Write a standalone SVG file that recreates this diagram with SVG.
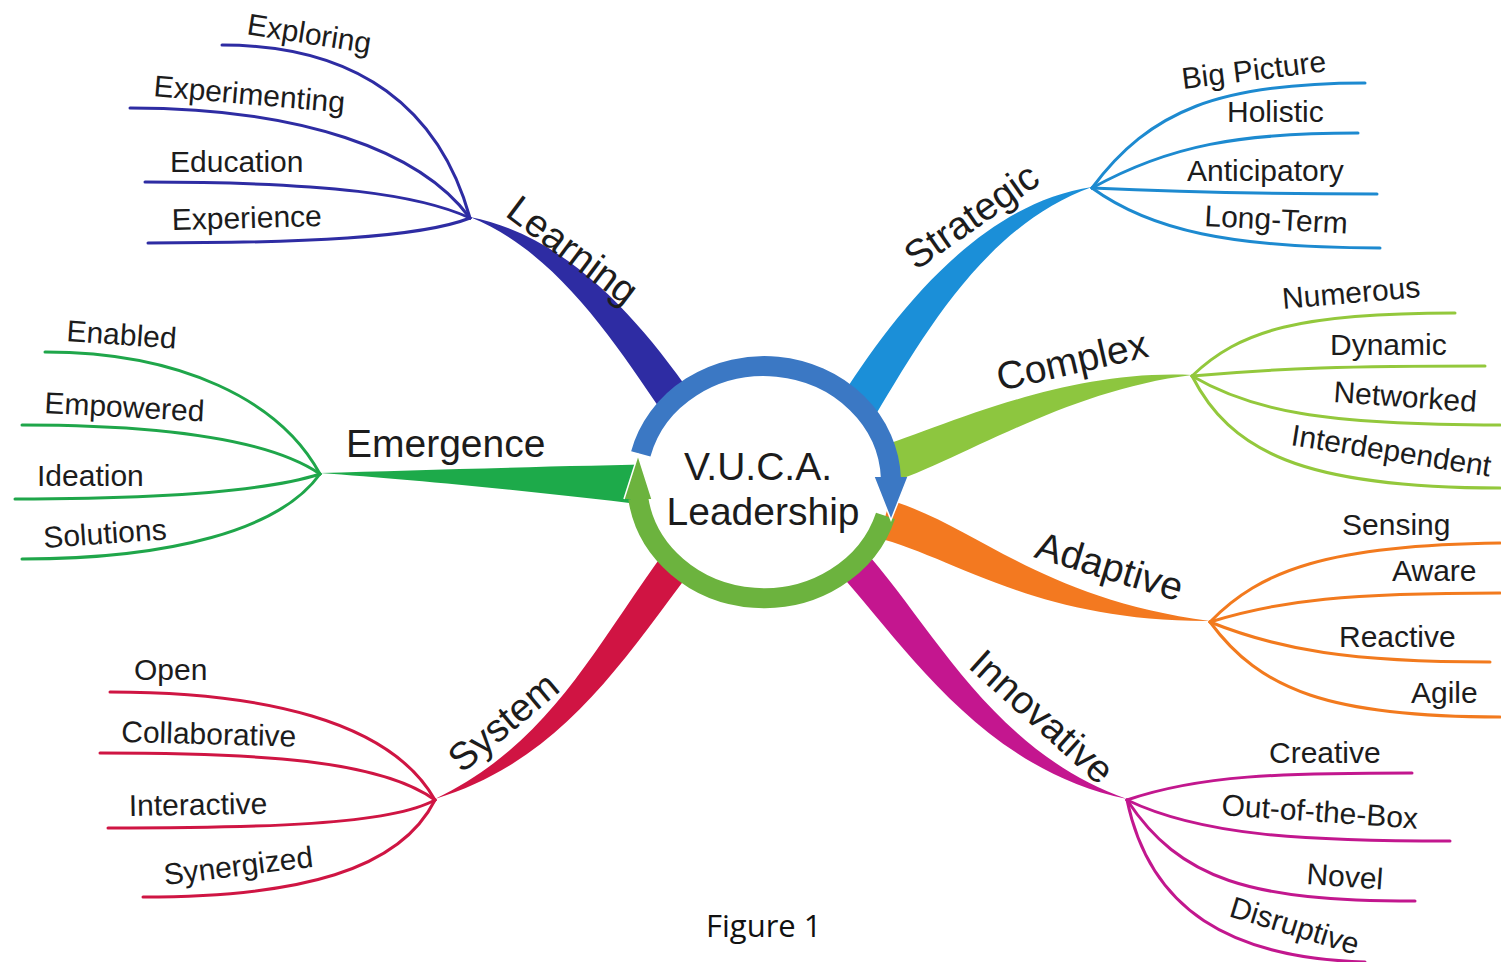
<svg xmlns="http://www.w3.org/2000/svg" width="1501" height="962" viewBox="0 0 1501 962">
<style>
.leaf{font-family:"Liberation Sans",Arial,sans-serif;font-size:30px;fill:#1c1c1c}
.lbl{font-family:"Liberation Sans",Arial,sans-serif;font-size:39px;fill:#1c1c1c}
.ctr{font-family:"Liberation Sans",Arial,sans-serif;font-size:39px;fill:#1c1c1c;text-anchor:middle}
.ln{fill:none;stroke-width:3;stroke-linecap:round}
.learn{stroke:#2e2ca3}.strat{stroke:#1d8ad0}.comp{stroke:#93c83c}.adap{stroke:#f27a1e}.innov{stroke:#c2178e}.sys{stroke:#cf1543}.emer{stroke:#1fa64a}
</style>
<rect width="1501" height="962" fill="#ffffff"/>
<g id="connectors">
  <!-- main tapered branches -->
  <path fill="#2e2ca3" d="M699,405 C643,324 571,237 470,217 C559,253 617,346 671,425 Z"/>
  <path fill="#1b8fd8" d="M837,404 C890,319 977,204 1092,187 C983,226 920,341 869,426 Z"/>
  <path fill="#8dc63f" d="M864,452 C942,428 1059,369 1192,375 C1061,391 958,463 876,488 Z"/>
  <path fill="#f37920" d="M874,496 C969,517 1031,598 1210,621 C1029,622 951,553 866,535 Z"/>
  <path fill="#c4168f" d="M862,548 C929,620 990,751 1127,799 C980,769 901,640 838,572 Z"/>
  <path fill="#d01443" d="M677,535 C596,642 555,741 435,799 C565,759 624,658 703,555 Z"/>
  <path fill="#1daa4a" d="M670,464 C560,466 420,470 320,473 C420,480 560,494 670,508 Z"/>
  <!-- Learning leaves -->
  <path class="ln learn" d="M222,45 C360,45 440,110 470,218"/>
  <path class="ln learn" d="M130,108 C300,108 420,150 470,218"/>
  <path class="ln learn" d="M145,182 C330,182 420,195 470,218"/>
  <path class="ln learn" d="M148,243 C300,243 420,238 470,218"/>
  <!-- Strategic leaves -->
  <path class="ln strat" d="M1092,188 C1150,110 1220,83 1365,83"/>
  <path class="ln strat" d="M1092,188 C1170,145 1240,133 1358,133"/>
  <path class="ln strat" d="M1092,188 C1180,192 1260,194 1377,194"/>
  <path class="ln strat" d="M1092,188 C1150,230 1230,248 1380,248"/>
  <!-- Complex leaves -->
  <path class="ln comp" d="M1192,376 C1240,330 1300,313 1455,313"/>
  <path class="ln comp" d="M1192,376 C1280,368 1350,366 1485,366"/>
  <path class="ln comp" d="M1192,376 C1250,410 1320,425 1500,425"/>
  <path class="ln comp" d="M1192,376 C1230,450 1300,488 1500,488"/>
  <!-- Adaptive leaves -->
  <path class="ln adap" d="M1210,622 C1260,570 1330,545 1500,543"/>
  <path class="ln adap" d="M1210,622 C1280,600 1350,593 1500,593"/>
  <path class="ln adap" d="M1210,622 C1280,650 1350,662 1490,662"/>
  <path class="ln adap" d="M1210,622 C1260,690 1330,717 1500,717"/>
  <!-- Innovative leaves -->
  <path class="ln innov" d="M1127,800 C1200,775 1280,773 1412,773"/>
  <path class="ln innov" d="M1127,800 C1200,835 1300,841 1450,841"/>
  <path class="ln innov" d="M1127,800 C1180,880 1250,901 1415,901"/>
  <path class="ln innov" d="M1127,800 C1150,910 1230,958 1365,962"/>
  <!-- System leaves -->
  <path class="ln sys" d="M110,692 C260,692 390,720 435,800"/>
  <path class="ln sys" d="M100,753 C260,753 380,760 435,800"/>
  <path class="ln sys" d="M108,828 C260,828 390,825 435,800"/>
  <path class="ln sys" d="M143,897 C300,897 400,870 435,800"/>
  <!-- Emergence leaves -->
  <path class="ln emer" d="M45,352 C180,352 280,400 320,474"/>
  <path class="ln emer" d="M22,425 C170,425 270,440 320,474"/>
  <path class="ln emer" d="M15,499 C170,499 270,490 320,474"/>
  <path class="ln emer" d="M22,559 C170,559 280,530 320,474"/>
</g>
<g id="center">
  <ellipse cx="764" cy="482" rx="127" ry="116" fill="#ffffff"/>
  <path d="M885.5,515.9 A127,116 0 0 1 638.2,498.1" fill="none" stroke="#6cb33e" stroke-width="20"/>
  <path d="M640.8,453.9 A127,116 0 0 1 890.9,478" fill="none" stroke="#3b78c4" stroke-width="20"/>
  <polygon points="624,499 652,499 638,455" fill="#6cb33e"/>
  <polyline points="624,499 638,455 652,499" fill="none" stroke="#ffffff" stroke-width="1.5"/>
  <polygon points="874,477 908,477 891,520" fill="#3b78c4"/>
  <polyline points="874,477 891,520 908,477" fill="none" stroke="#ffffff" stroke-width="1.5"/>
  <text class="ctr" x="758" y="480">V.U.C.A.</text>
  <text class="ctr" x="763" y="525">Leadership</text>
</g>
<g id="learning">
  <text class="lbl" transform="translate(504,215) rotate(37)">Learning</text>
  <text id="exploring" class="leaf" transform="translate(246,34) rotate(9)">Exploring</text>
  <text id="experimenting" class="leaf" transform="translate(153,96) rotate(5)">Experimenting</text>
  <text id="education" class="leaf" x="170" y="172">Education</text>
  <text id="experience" class="leaf" transform="translate(172,230) rotate(-1.5)">Experience</text>
</g>
<g id="strategic">
  <text class="lbl" transform="translate(916,271) rotate(-35)">Strategic</text>
  <text id="bigpicture" class="leaf" transform="translate(1183,89) rotate(-7)">Big Picture</text>
  <text id="holistic" class="leaf" x="1227" y="122">Holistic</text>
  <text id="anticipatory" class="leaf" x="1187" y="181">Anticipatory</text>
  <text id="longterm" class="leaf" transform="translate(1204,226) rotate(3)">Long-Term</text>
</g>
<g id="complex">
  <text class="lbl" transform="translate(1000,391) rotate(-13)">Complex</text>
  <text id="numerous" class="leaf" transform="translate(1283,309) rotate(-5)">Numerous</text>
  <text id="dynamic" class="leaf" x="1330" y="355">Dynamic</text>
  <text id="networked" class="leaf" transform="translate(1333,402) rotate(4)">Networked</text>
  <text id="interdependent" class="leaf" transform="translate(1290,445) rotate(9)">Interdependent</text>
</g>
<g id="adaptive">
  <text class="lbl" transform="translate(1033,557) rotate(17)">Adaptive</text>
  <text id="sensing" class="leaf" x="1342" y="535">Sensing</text>
  <text id="aware" class="leaf" x="1392" y="581">Aware</text>
  <text id="reactive" class="leaf" x="1339" y="647">Reactive</text>
  <text id="agile" class="leaf" x="1411" y="703">Agile</text>
</g>
<g id="innovative">
  <text class="lbl" transform="translate(967,667) rotate(42)">Innovative</text>
  <text id="creative" class="leaf" x="1269" y="763">Creative</text>
  <text id="outofthebox" class="leaf" transform="translate(1221,815) rotate(4)">Out-of-the-Box</text>
  <text id="novel" class="leaf" transform="translate(1306,884) rotate(4)">Novel</text>
  <text id="disruptive" class="leaf" transform="translate(1228,916) rotate(17)">Disruptive</text>
</g>
<g id="system">
  <text class="lbl" transform="translate(462,774) rotate(-40)">System</text>
  <text id="open" class="leaf" x="134" y="680">Open</text>
  <text id="collaborative" class="leaf" transform="translate(121,742) rotate(1.5)">Collaborative</text>
  <text id="interactive" class="leaf" transform="translate(129,816) rotate(-1)">Interactive</text>
  <text id="synergized" class="leaf" transform="translate(165,885) rotate(-7)">Synergized</text>
</g>
<g id="emergence">
  <text class="lbl" x="346" y="457">Emergence</text>
  <text id="enabled" class="leaf" transform="translate(66,341) rotate(4)">Enabled</text>
  <text id="empowered" class="leaf" transform="translate(44,413) rotate(3)">Empowered</text>
  <text id="ideation" class="leaf" x="37" y="486">Ideation</text>
  <text id="solutions" class="leaf" transform="translate(44,548) rotate(-4)">Solutions</text>
</g>
<g id="caption">
  <text x="706" y="937" style="font-family:'Open Sans',sans-serif;font-size:31px;fill:#111">Figure 1</text>
</g>
</svg>
